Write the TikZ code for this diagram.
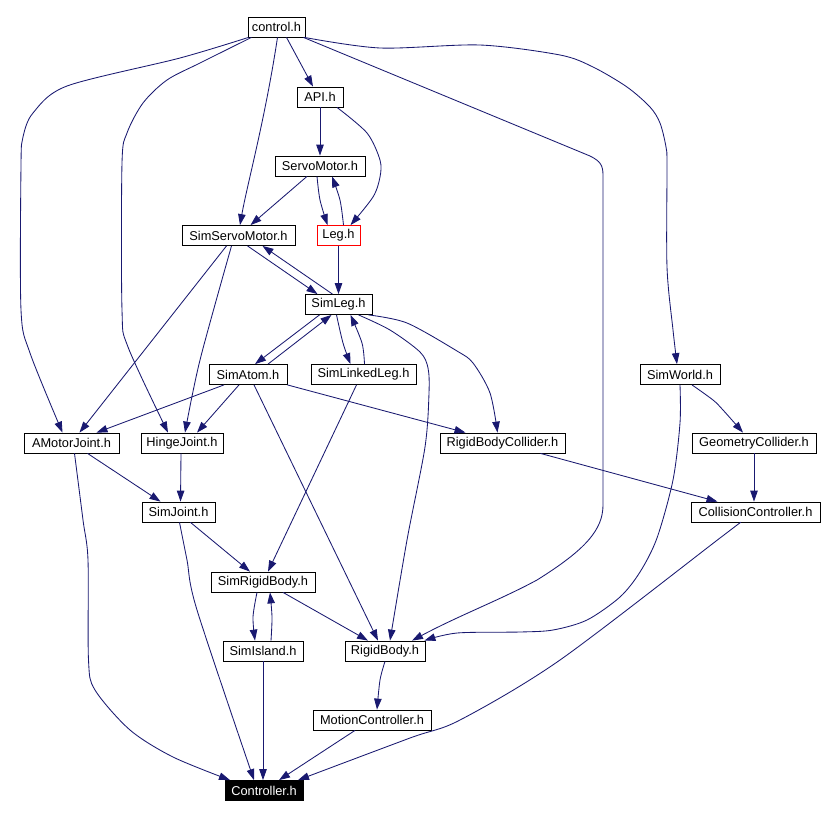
\documentclass[tikz,border=0pt]{standalone}
\usepackage{fontspec}
\setmainfont{Liberation Sans}
\usetikzlibrary{arrows.meta}
\definecolor{edgecol}{RGB}{25,25,112}
\begin{document}
\begin{tikzpicture}[x=1pt,y=-1pt,
  hdr/.style={draw=black,line width=0.8pt,inner sep=0pt,minimum height=20pt,
    font=\fontsize{12.8}{15}\selectfont,fill=white},
  dep/.style={draw=edgecol,line width=0.85pt,-{Triangle[length=11pt,width=7.5pt]}},
  curve/.style={smooth,tension=0.5}]
\useasboundingbox (0,0) rectangle (824,817);
% nodes
\node[hdr,minimum width=57pt] (ctrl) at (276.5,27) {control.h};
\node[hdr,minimum width=46pt] (api) at (320,97) {API.h};
\node[hdr,minimum width=90pt] (servo) at (320,166) {ServoMotor.h};
\node[hdr,minimum width=113pt] (simservo) at (238.5,235.5) {SimServoMotor.h};
\node[hdr,draw=red,minimum width=43pt] (leg) at (338.5,235.5) {Leg.h};
\node[hdr,minimum width=67pt] (simleg) at (338.5,304.5) {SimLeg.h};
\node[hdr,minimum width=78pt] (simatom) at (248,374.5) {SimAtom.h};
\node[hdr,minimum width=105pt] (simlinked) at (363.5,374.5) {SimLinkedLeg.h};
\node[hdr,minimum width=80pt] (simworld) at (680,374.5) {SimWorld.h};
\node[hdr,minimum width=95pt] (amotor) at (71.5,443) {AMotorJoint.h};
\node[hdr,minimum width=82pt] (hinge) at (182,443) {HingeJoint.h};
\node[hdr,minimum width=125pt] (rbcoll) at (502.5,443) {RigidBodyCollider.h};
\node[hdr,minimum width=124pt] (geocoll) at (754,443) {GeometryCollider.h};
\node[hdr,minimum width=73pt] (simjoint) at (178.5,512) {SimJoint.h};
\node[hdr,minimum width=129pt] (collctrl) at (755.5,512) {CollisionController.h};
\node[hdr,minimum width=104pt] (simrigid) at (263,582) {SimRigidBody.h};
\node[hdr,minimum width=80pt] (simisland) at (263,651) {SimIsland.h};
\node[hdr,minimum width=80pt] (rigidbody) at (385,651) {RigidBody.h};
\node[hdr,minimum width=118pt] (motion) at (372,720) {MotionController.h};
\node[hdr,fill=black,text=white,minimum width=78pt] (controller) at (264,790.5) {Controller.h};
% edges from control.h
\draw[dep] ([xshift=10]ctrl.south) -- ([xshift=-7]api.north);
\draw[dep] ([xshift=1]ctrl.south) .. controls (265,120) and (247,185) .. ([xshift=1.5]simservo.north);
\draw[dep] plot[curve] coordinates {([xshift=-28]ctrl.south) (180,58) (67,86) (33,113) (23,137) (21,165) (21,310) (30,353) ([xshift=-9]amotor.north)};
\draw[dep] plot[curve] coordinates {([xshift=-25]ctrl.south) (200,63) (167,80) (143,103) (127,133) (122,163) (122,310) (128,347) ([xshift=-14]hinge.north)};
\draw[dep] plot[curve] coordinates {([xshift=-1]ctrl.south east) (380,48) (480,45) (560,55) (593,67) (627,87) (650,107) (660,123) (666,147) (667,165) (667,267) (673,330) ([xshift=-3]simworld.north)};
\draw[dep] ([xshift=-2]ctrl.south east) -- (590,156) .. controls (600,161) and (603,165) .. (603,175) -- (603,505) .. controls (603,530) and (585,550) .. (537,580) .. controls (500,600) and (460,615) .. ([xshift=27]rigidbody.north);
% API.h
\draw[dep] (api) -- (servo);
\draw[dep] plot[curve] coordinates {([xshift=17]api.south) (367,133) (380,160) (380,177) (373,197) ([xshift=12]leg.north)};
% ServoMotor.h
\draw[dep] ([xshift=-13]servo.south) -- ([xshift=12]simservo.north);
\draw[dep] plot[curve] coordinates {([xshift=-3]servo.south) (320,200) ([xshift=-11]leg.north)};
% Leg.h
\draw[dep] plot[curve] coordinates {([xshift=5]leg.north) (340,200) ([xshift=12]servo.south)};
\draw[dep] (leg) -- (simleg);
% SimServoMotor.h
\draw[dep] ([xshift=9]simservo.south) -- ([xshift=-21]simleg.north);
\draw[dep] ([xshift=-12]simservo.south) -- ([xshift=8]amotor.north);
\draw[dep] plot[curve] coordinates {([xshift=-7]simservo.south) (200,360) ([xshift=3]hinge.north)};
% SimLeg.h
\draw[dep] ([xshift=-6]simleg.north) -- ([xshift=24]simservo.south);
\draw[dep] ([xshift=-19]simleg.south) -- ([xshift=7]simatom.north);
\draw[dep] plot[curve] coordinates {([xshift=-2]simleg.south) (343,343) ([xshift=-13]simlinked.north)};
\draw[dep] plot[curve] coordinates {([xshift=-4]simleg.south east) (407,323) (457,351) (473,363) (490,393) ([xshift=-5]rbcoll.north)};
\draw[dep] plot[curve] coordinates {([xshift=20]simleg.south) (390,330) (420,352) (428,368) (429,393) (425,447) (407,540) ([xshift=5]rigidbody.north)};
% SimAtom.h
\draw[dep] ([xshift=20]simatom.north) -- ([xshift=-7]simleg.south);
\draw[dep] ([xshift=-24]simatom.south) -- ([xshift=25]amotor.north);
\draw[dep] ([xshift=-9]simatom.south) -- ([xshift=15]hinge.north);
\draw[dep] (simatom.south east) -- ([xshift=-37]rbcoll.north);
\draw[dep] ([xshift=6]simatom.south) -- ([xshift=-7]rigidbody.north);
% SimLinkedLeg.h
\draw[dep] plot[curve] coordinates {([xshift=1]simlinked.north) (362,343) ([xshift=12]simleg.south)};
\draw[dep] ([xshift=-7]simlinked.south) -- ([xshift=5]simrigid.north);
% SimWorld.h
\draw[dep] plot[curve] coordinates {([xshift=12]simworld.south) (713,400) (723,410) ([xshift=-11]geocoll.north)};
\draw[dep] plot[curve] coordinates {(simworld.south) (680,423) (673,480) (657,538) (640,572) (620,597) (587,620) (553,630) (520,632) (457,633) ([xshift=-1]rigidbody.north east)};
% AMotorJoint.h
\draw[dep] ([xshift=16]amotor.south) -- ([xshift=-18]simjoint.north);
\draw[dep] plot[curve] coordinates {([xshift=3]amotor.south) (83,520) (88,560) (88.5,660) (95,690) (130,730) (173,757) ([xshift=-34]controller.north)};
% HingeJoint.h
\draw[dep] ([xshift=-1]hinge.south) -- ([xshift=2]simjoint.north);
% SimJoint.h
\draw[dep] ([xshift=12]simjoint.south) -- ([xshift=-13]simrigid.north);
\draw[dep] plot[curve] coordinates {([xshift=1]simjoint.south) (187,560) (197,610) ([xshift=-10]controller.north)};
% RigidBodyCollider.h / GeometryCollider.h / CollisionController.h
\draw[dep] ([xshift=38]rbcoll.south) -- ([xshift=-38]collctrl.north);
\draw[dep] (geocoll.south) -- (geocoll.south |- collctrl.north);
\draw[dep] plot[curve] coordinates {([xshift=-15]collctrl.south) (720,538) (560,660) (460,720) (410,738) ([xshift=34]controller.north)};
% SimRigidBody.h / SimIsland.h
\draw[dep] plot[curve] coordinates {([xshift=-6]simrigid.south) (253,617) ([xshift=-8]simisland.north)};
\draw[dep] plot[curve] coordinates {([xshift=8]simisland.north) (272,617) ([xshift=7]simrigid.south)};
\draw[dep] ([xshift=20]simrigid.south) -- ([xshift=-17]rigidbody.north);
\draw[dep] (simisland.south) -- (simisland.south |- controller.north);
% RigidBody.h / MotionController.h
\draw[dep] plot[curve] coordinates {(rigidbody.south) (380,680) ([xshift=5]motion.north)};
\draw[dep] ([xshift=-17]motion.south) -- ([xshift=15]controller.north);
\end{tikzpicture}
\end{document}
